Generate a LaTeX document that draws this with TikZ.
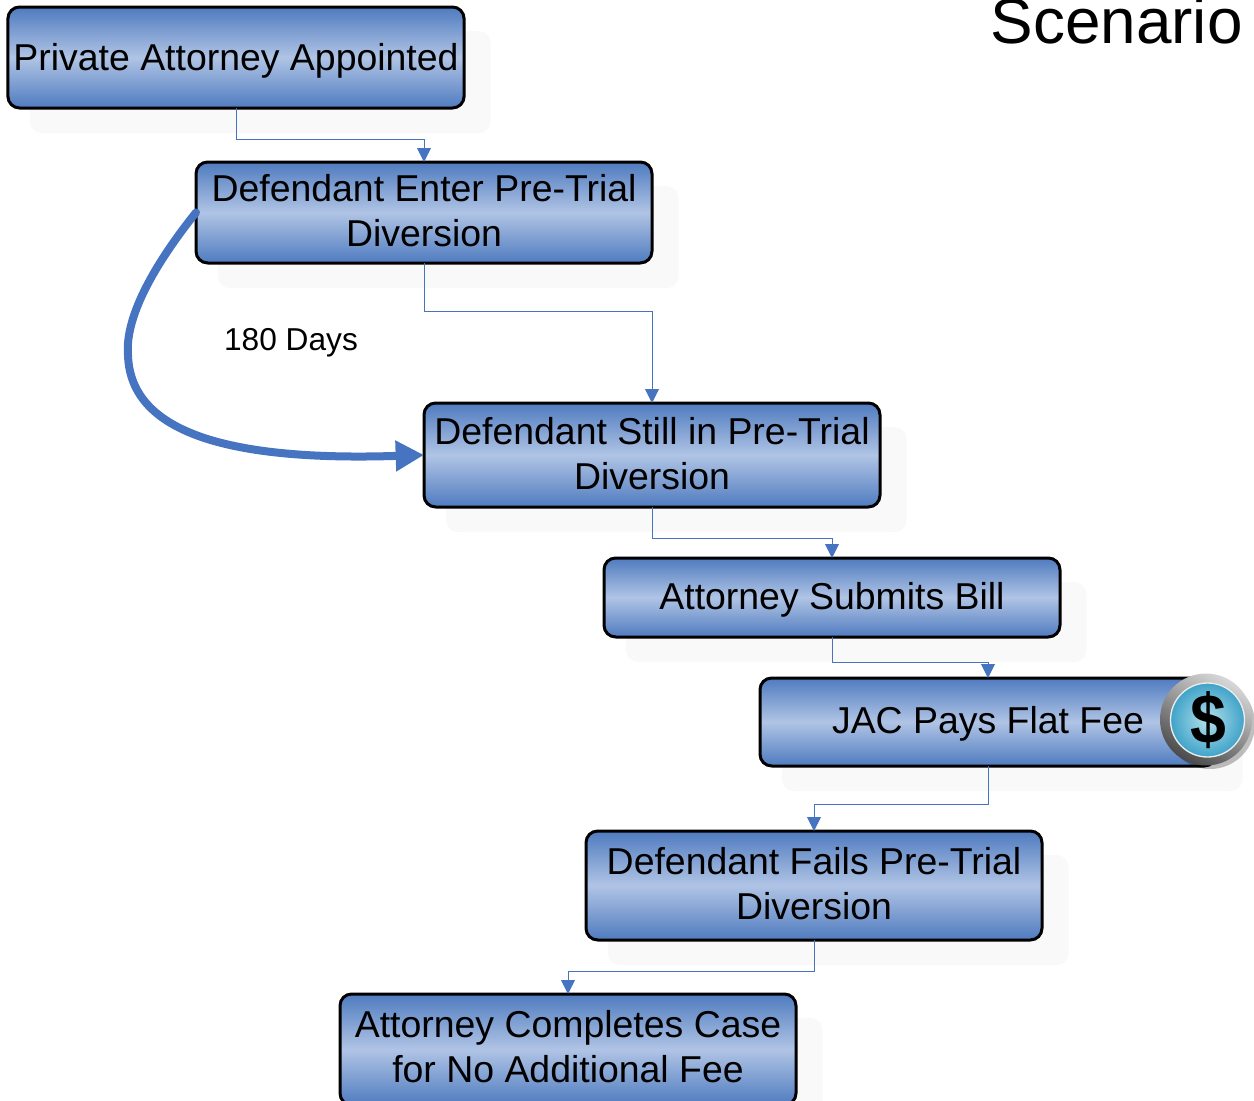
\documentclass[tikz,border=0pt]{standalone}
\usepackage{fontspec}
\setmainfont{Liberation Sans}
\usepackage{tikz}
\usetikzlibrary{positioning,arrows.meta,shadows}
\definecolor{flowblue}{HTML}{4674C1}
\definecolor{boxedge}{HTML}{4F7BBF}
\definecolor{boxmid}{HTML}{B0C4E5}
\definecolor{shadowgray}{HTML}{F9F9F9}
\definecolor{coinmid}{HTML}{B4E0EB}
\definecolor{coinrim}{HTML}{3FA3C9}
\definecolor{ringlight}{HTML}{D8D8D8}
\definecolor{ringdark}{HTML}{4A4A4A}
\tikzset{
  flowbox/.style={draw=black, line width=1.8pt, rounded corners=7pt, outer sep=0pt, align=center,
    minimum width=273.6pt, top color=boxedge, bottom color=boxedge, middle color=boxmid,
    font=\fontsize{22.45}{27}\selectfont,
    copy shadow={shadow xshift=14.4pt, shadow yshift=-14.6pt, shadow scale=1.01, draw=none, fill=shadowgray}},
  flow/.style={draw=flowblue, line width=0.6pt, -{Triangle[length=8.4pt,width=8.4pt]}},
  bigflow/.style={draw=flowblue, line width=4.8pt, line cap=round, -{Triangle[length=17pt,width=17.5pt]}},
}
\begin{document}
\begin{tikzpicture}[x=0.6pt,y=-0.6pt]
\useasboundingbox (0,0) rectangle (1254,1101);
\node (Private) [flowbox, minimum height=60.6pt, text height=15.5pt, text depth=0pt] at (236,57.5) {Private Attorney Appointed};
\node (Enter) [flowbox, minimum height=60.6pt, text depth=2.4pt, below=32.4pt of Private, xshift=112.8pt] {Defendant Enter Pre-Trial\\Diversion};
\node (Still) [flowbox, minimum height=62.4pt, text depth=2.4pt, below=84pt of Enter, xshift=136.8pt] {Defendant Still in Pre-Trial\\Diversion};
\node (Bill) [flowbox, minimum height=47.4pt, text height=14.8pt, text depth=0pt, below=30.6pt of Still, xshift=108pt] {Attorney Submits Bill};
\node (Pays) [flowbox, minimum height=52.8pt, text height=13.7pt, text depth=0pt, below=24.6pt of Bill, xshift=93.6pt] {JAC Pays Flat Fee};
\node (Fails) [flowbox, minimum height=65.4pt, text depth=2.4pt, below=39pt of Pays, xshift=-104.4pt] {Defendant Fails Pre-Trial\\Diversion};
\node (Completes) [flowbox, minimum height=66.6pt, text depth=3.6pt, below=32.4pt of Fails, xshift=-147.6pt] {Attorney Completes Case\\for No Additional Fee};
\node (Days) [font=\fontsize{19}{23}\selectfont] at (291,343) {180 Days};
\node (Scenario) [font=\fontsize{38.3}{46}\selectfont, anchor=base east, inner sep=0pt] at (1243,43) {Scenario};

\draw[flow] (Private.south) -- ++(0,31) -| (Enter.north);
\draw[flow] (Enter.south) -- ++(0,48) -| (Still.north);
\draw[flow] (Still.south) -- ++(0,31) -| (Bill.north);
\draw[flow] (Bill.south) -- ++(0,25) -| (Pays.north);
\draw[flow] (Pays.south) -- ++(0,38) -| (Fails.north);
\draw[flow] (Fails.south) -- ++(0,31) -| (Completes.north);
\draw[bigflow] (Enter.west) .. controls (150,270) and (125,320) .. (128,355) .. controls (130,425) and (210,462) .. (Still.west);

% dollar icon
\fill[black, opacity=0.25] (1210,724) circle (45);
\shade[top color=ringlight, bottom color=ringdark, shading angle=-30] (1206,719.5) circle (46);
\shade[inner color=coinmid, outer color=coinrim, draw=white!85!gray, line width=0.8pt] (1207.5,720) circle (37);
\node (Dollar) [font=\fontsize{42}{46}\bfseries\selectfont, xscale=0.92] at (1208,720) {\$};
\end{tikzpicture}
\end{document}
